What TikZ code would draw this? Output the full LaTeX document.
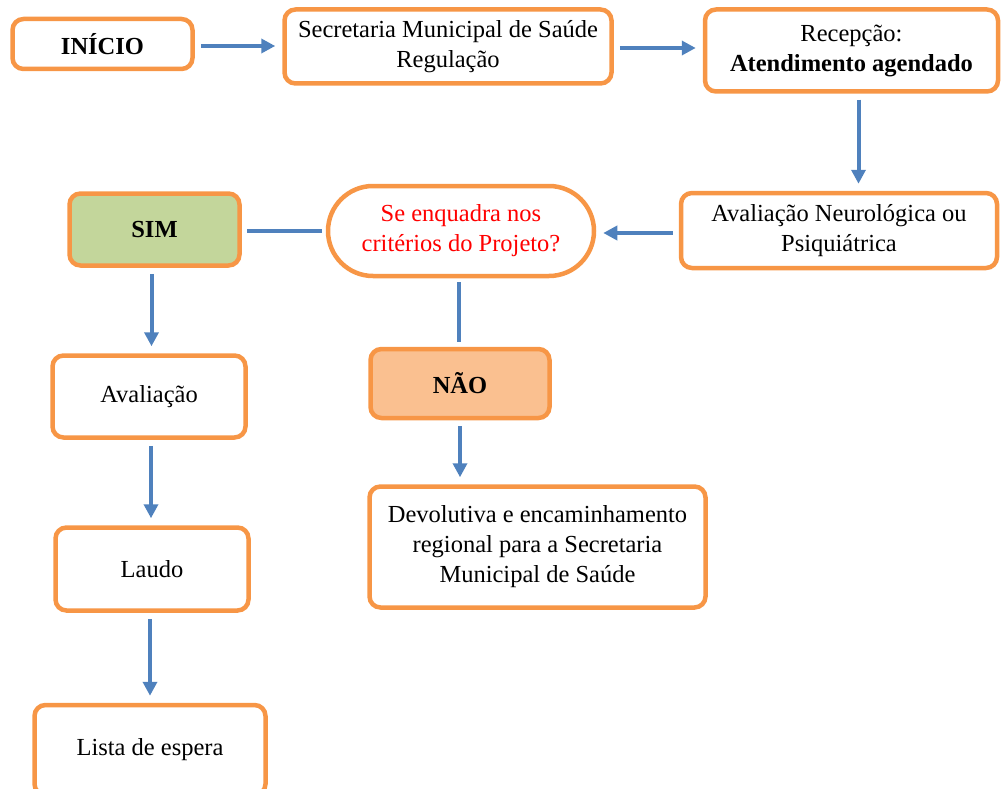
\documentclass[tikz,border=0pt]{standalone}
\usepackage{fontspec}
\setmainfont{Liberation Serif}
\usepackage{tikz}
\usetikzlibrary{arrows.meta}
\definecolor{laranja}{HTML}{F79646}
\definecolor{azul}{HTML}{4F81BD}
\definecolor{verde}{HTML}{C3D69B}
\definecolor{pessego}{HTML}{FAC090}
\begin{document}
\begin{tikzpicture}[x=1pt, y=-1pt,
  caixa/.style={draw=laranja, line width=4.5pt, rounded corners=11pt, fill=white, align=center, inner sep=0pt, font=\fontsize{24.5}{30}\selectfont},
  seta/.style={draw=azul, line width=4pt, -{Triangle[length=14pt,width=14pt]}, shorten <=6pt, shorten >=7pt},
  linha/.style={draw=azul, line width=4pt, shorten <=4pt, shorten >=5pt}]

\useasboundingbox (0,0) rectangle (1001,789);

\node[caixa, minimum width=180pt, minimum height=50pt] (inicio) at (102.5,44) {\textbf{INÍCIO}};
\node[caixa, minimum width=327pt, minimum height=74pt] (secretaria) at (448,46.5) {Secretaria Municipal de Saúde\\Regulação};
\node[caixa, minimum width=293pt, minimum height=82pt] (recepcao) at (851.5,50.5) {Recepção:\\\textbf{Atendimento agendado}};
\node[caixa, minimum width=316pt, minimum height=75pt] (neuro) at (839,230.5) {Avaliação Neurológica ou\\Psiquiátrica};
\node[caixa, minimum width=266pt, minimum height=90pt, rounded corners=45pt, text=red] (criterio) at (461,231) {Se enquadra nos\\critérios do Projeto?};
\node[caixa, minimum width=170pt, minimum height=72pt, fill=verde] (sim) at (154.5,229.5) {\textbf{SIM}};
\node[caixa, minimum width=179pt, minimum height=69pt, fill=pessego] (nao) at (460,383.5) {\textbf{NÃO}};
\node[caixa, minimum width=336pt, minimum height=121pt] (devolutiva) at (537.5,547) {Devolutiva e encaminhamento\\regional para a Secretaria\\Municipal de Saúde};
\node[caixa, minimum width=193pt, minimum height=82pt] (avaliacao) at (149,396.5) {Avaliação};
\node[caixa, minimum width=193pt, minimum height=83pt] (laudo) at (152,569) {Laudo};
\node[caixa, minimum width=231pt, minimum height=90pt] (lista) at (150,750) {Lista de espera};

\draw[seta] ([yshift=-2pt]inicio.east) -- ([yshift=-2pt]secretaria.west |- inicio.east);
\draw[seta] ([yshift=-1.5pt]secretaria.east) -- ([yshift=-1.5pt]recepcao.west |- secretaria.east);
\draw[seta] ([xshift=7pt]recepcao.south) -- ([xshift=7pt]recepcao.south |- neuro.north);
\draw[seta] ([yshift=-2.5pt]neuro.west) -- ([yshift=-2.5pt]criterio.east |- neuro.west);
\draw[linha] (criterio.west) -- (criterio.west -| sim.east);
\draw[linha] ([xshift=-2pt]criterio.south) -- ([xshift=-2pt]criterio.south |- nao.north);
\draw[seta] (nao.south) -- (nao.south |- devolutiva.north);
\draw[seta] ([xshift=-3pt]sim.south) -- ([xshift=-3pt]sim.south |- avaliacao.north);
\draw[seta] ([xshift=2pt]avaliacao.south) -- ([xshift=2pt]avaliacao.south |- laudo.north);
\draw[seta] ([xshift=-2pt]laudo.south) -- ([xshift=-2pt]laudo.south |- lista.north);

\end{tikzpicture}
\end{document}
